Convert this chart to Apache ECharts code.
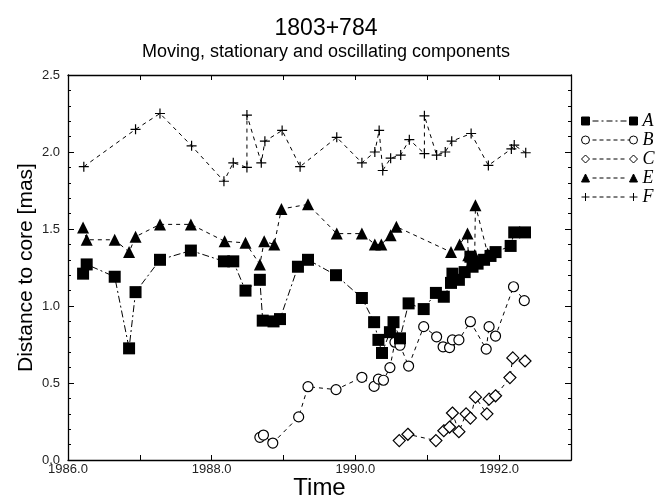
<!DOCTYPE html>
<html>
<head>
<meta charset="utf-8">
<script src="https://cdn.jsdelivr.net/npm/echarts@6/dist/echarts.min.js"></script>
<style>html,body{margin:0;padding:0;background:#fff}#c{width:659px;height:500px}</style>
</head>
<body>
<div id="c"></div>
<script>
// ---- data (time in years, distance in mas) ----
const aX = [1986.21,1986.26,1986.65,1986.85,1986.94,1987.28,1987.71,1988.17,1988.30,1988.47,1988.67,1988.71,1988.86,1988.95,1989.20,1989.34,1989.73,1990.09,1990.26,1990.32,1990.37,1990.48,1990.53,1990.62,1990.74,1990.95,1991.12,1991.23,1991.33,1991.35,1991.44,1991.52,1991.60,1991.63,1991.70,1991.79,1991.88,1991.95,1992.16,1992.21,1992.36];
const aY = [1.21,1.27,1.19,0.725,1.09,1.30,1.36,1.29,1.29,1.10,1.17,0.905,0.90,0.915,1.255,1.30,1.20,1.052,0.895,0.78,0.695,0.83,0.895,0.79,1.017,0.98,1.085,1.06,1.15,1.21,1.17,1.22,1.32,1.255,1.275,1.30,1.325,1.35,1.39,1.478,1.478];

const bX = [1988.67,1988.72,1988.85,1989.21,1989.34,1989.73,1990.09,1990.26,1990.32,1990.39,1990.48,1990.55,1990.62,1990.74,1990.95,1991.13,1991.22,1991.31,1991.35,1991.44,1991.60,1991.82,1991.86,1991.95,1992.20,1992.35];
const bY = [0.147,0.162,0.11,0.28,0.476,0.457,0.537,0.478,0.525,0.518,0.60,0.765,0.745,0.61,0.866,0.80,0.735,0.73,0.78,0.78,0.898,0.72,0.866,0.805,1.125,1.035];

const cX = [1990.61,1990.73,1991.12,1991.23,1991.31,1991.35,1991.44,1991.54,1991.60,1991.67,1991.83,1991.86,1991.95,1992.15,1992.19,1992.36];
const cY = [0.126,0.167,0.126,0.19,0.214,0.305,0.184,0.30,0.272,0.408,0.30,0.395,0.417,0.535,0.663,0.643];

const eX = [1986.21,1986.26,1986.65,1986.85,1986.94,1987.28,1987.71,1988.18,1988.47,1988.67,1988.73,1988.87,1988.97,1989.34,1989.74,1990.09,1990.27,1990.36,1990.49,1990.57,1991.33,1991.45,1991.56,1991.57,1991.66,1991.67,1991.84];
const eY = [1.51,1.43,1.43,1.35,1.45,1.53,1.53,1.42,1.41,1.27,1.42,1.40,1.63,1.66,1.47,1.47,1.40,1.40,1.46,1.515,1.35,1.40,1.47,1.33,1.33,1.655,1.34];

const fX = [1986.22,1986.94,1987.28,1987.72,1988.17,1988.30,1988.49,1988.49,1988.69,1988.74,1988.98,1989.23,1989.74,1990.09,1990.27,1990.33,1990.38,1990.49,1990.63,1990.75,1990.96,1990.96,1991.13,1991.25,1991.34,1991.61,1991.85,1992.17,1992.21,1992.37];
const fY = [1.905,2.147,2.25,2.04,1.81,1.93,1.90,2.24,1.93,2.07,2.14,1.905,2.095,1.93,2.00,2.14,1.88,1.96,1.98,2.08,1.99,2.235,1.98,2.00,2.07,2.12,1.913,2.02,2.045,1.995];

const seriesNames = ['A','B','C','E','F'];
const xTicks = {min:1986, max:1993, step:1};
const yTicks = {min:0, max:2.5, step:0.5};

function zip(xs, ys){ return xs.map((x,i)=>[x, ys[i]]); }

const plusPath = 'path://M0 5 L10 5 M5 0 L5 10';
const legendIcons = {
  A: 'path://M0 0 L8 0 L8 8 L0 8 Z M11 4 L17 4 M20 4 L22 4 M25 4 L31 4 M34 4 L36 4 M39 4 L45 4 M48 0 L56 0 L56 8 L48 8 Z',
  B: 'path://M8 4 A4 4 0 1 1 0 4 A4 4 0 1 1 8 4 Z M11 4 L15 4 M18 4 L22 4 M25 4 L29 4 M32 4 L36 4 M39 4 L43 4 M46 4 L48 4 M56 4 A4 4 0 1 1 48 4 A4 4 0 1 1 56 4 Z',
  C: 'path://M4 0 L8 4 L4 8 L0 4 Z M11 4 L15 4 M18 4 L22 4 M25 4 L29 4 M32 4 L36 4 M39 4 L43 4 M52 0 L56 4 L52 8 L48 4 Z',
  E: 'path://M0 8 L4 0 L8 8 Z M11 4 L15 4 M18 4 L22 4 M25 4 L29 4 M32 4 L36 4 M39 4 L43 4 M48 8 L52 0 L56 8 Z',
  F: 'path://M0 4 L8 4 M4 0 L4 8 M11 4 L15 4 M18 4 L22 4 M25 4 L29 4 M32 4 L36 4 M39 4 L43 4 M48 4 L56 4 M52 0 L52 8'
};
const legendFill = {A:'#000', B:'#fff', C:'#fff', E:'#000', F:'#000'};

const chart = echarts.init(document.getElementById('c'), null, {renderer:'canvas'});
const FONT = 'Liberation Sans, Arial, Helvetica, sans-serif';

const baseAxis = {
  axisLine:{show:true, onZero:false, lineStyle:{color:'#000', width:1.3}},
  splitLine:{show:false}
};

chart.setOption({
  backgroundColor:'#fff',
  animation:false,
  title:{
    text:'1803+784',
    subtext:'Moving, stationary and oscillating components',
    left:321, top:12, textAlign:'center', itemGap:3,
    textStyle:{fontFamily:FONT, fontSize:23, fontWeight:'normal', color:'#000'},
    subtextStyle:{fontFamily:FONT, fontSize:18, color:'#000'}
  },
  legend:{
    orient:'vertical', left:576, top:107, itemWidth:56, itemHeight:8, itemGap:1,
    textStyle:{fontFamily:'Liberation Serif, DejaVu Serif, serif', fontStyle:'italic', fontSize:18, color:'#000', lineHeight:17},
    selectedMode:false,
    data: seriesNames.map(n=>({name:n, icon:legendIcons[n],
      itemStyle:{color:legendFill[n], borderColor:'#000', borderWidth:1}}))
  },
  grid:{left:68, right:88, top:75, bottom:40, containLabel:false, outerBoundsMode:'none'},
  xAxis:[
    Object.assign({}, baseAxis, {
      type:'value', min:xTicks.min, max:xTicks.max, interval:xTicks.step, position:'bottom',
      name:'Time', nameLocation:'middle', nameGap:16, nameMoveOverlap:false,
      nameTextStyle:{fontFamily:FONT, fontSize:24, color:'#000'},
      axisTick:{show:true, inside:true, length:5, lineStyle:{color:'#000'}},
      axisLabel:{fontFamily:FONT, fontSize:13, color:'#222', margin:3,
        formatter:v=> (Math.round(v)%2===0 ? v.toFixed(1) : '')}
    }),
    Object.assign({}, baseAxis, {
      type:'value', min:xTicks.min, max:xTicks.max, interval:xTicks.step, position:'top',
      axisTick:{show:true, inside:true, length:5, lineStyle:{color:'#000'}},
      axisLabel:{show:false}
    })
  ],
  yAxis:[
    Object.assign({}, baseAxis, {
      type:'value', min:yTicks.min, max:yTicks.max, interval:yTicks.step, position:'left',
      name:'Distance to core [mas]', nameLocation:'middle', nameGap:31, nameRotate:90, nameMoveOverlap:false,
      nameTextStyle:{fontFamily:FONT, fontSize:21, color:'#000'},
      axisTick:{show:true, inside:true, length:6, lineStyle:{color:'#000'}},
      minorTick:{show:true, splitNumber:5, length:3, lineStyle:{color:'#000'}},
      axisLabel:{fontFamily:FONT, fontSize:13, color:'#222', margin:8, formatter:v=>v.toFixed(1)}
    }),
    Object.assign({}, baseAxis, {
      type:'value', min:yTicks.min, max:yTicks.max, interval:yTicks.step, position:'right',
      axisTick:{show:true, inside:true, length:6, lineStyle:{color:'#000'}},
      minorTick:{show:true, splitNumber:5, length:3, lineStyle:{color:'#000'}},
      axisLabel:{show:false}
    })
  ],
  series:[
    {name:'F', type:'line', data:zip(fX,fY), z:2, symbol:plusPath, symbolSize:10,
      itemStyle:{color:'#000', borderColor:'#000', borderWidth:1.2},
      lineStyle:{color:'#000', width:1, type:[4,4]}},
    {name:'E', type:'line', data:zip(eX,eY), z:3, symbol:'triangle', symbolSize:12,
      itemStyle:{color:'#000'}, lineStyle:{color:'#000', width:1, type:[4,4]}},
    {name:'C', type:'line', data:zip(cX,cY), z:4, symbol:'diamond', symbolSize:12,
      itemStyle:{color:'#fff', borderColor:'#000', borderWidth:1.2},
      lineStyle:{color:'#000', width:1, type:[4,4]}},
    {name:'B', type:'line', data:zip(bX,bY), z:5, symbol:'circle', symbolSize:10,
      itemStyle:{color:'#fff', borderColor:'#000', borderWidth:1.2},
      lineStyle:{color:'#000', width:1, type:[4,4]}},
    {name:'A', type:'line', data:zip(aX,aY), z:6, symbol:'rect', symbolSize:12,
      itemStyle:{color:'#000'}, lineStyle:{color:'#000', width:1, type:[7,3,2,3]}}
  ]
});
</script>
</body>
</html>
